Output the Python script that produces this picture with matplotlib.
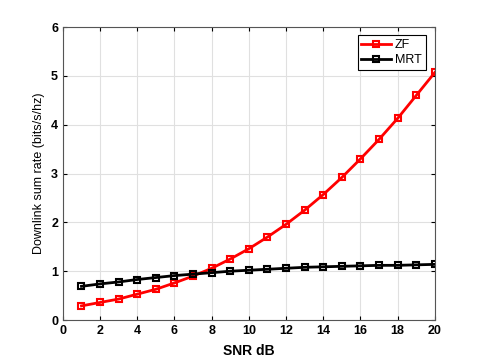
import matplotlib.pyplot as plt
import numpy as np

plt.rcParams['font.family'] = ['Liberation Sans', 'DejaVu Sans']

# SNR values in dB
snr_db = [1, 2, 3, 4, 5, 6, 7, 8, 9, 10, 11, 12, 13, 14, 15, 16, 17, 18, 19, 20]

# Downlink sum rates
zf_rate = [0.29, 0.36, 0.43, 0.53, 0.63, 0.76, 0.90, 1.06, 1.25, 1.46,
           1.70, 1.96, 2.25, 2.57, 2.92, 3.30, 3.70, 4.13, 4.60, 5.07]
mrt_rate = [0.69, 0.74, 0.78, 0.83, 0.87, 0.91, 0.94, 0.97, 1.00, 1.02,
            1.04, 1.06, 1.08, 1.09, 1.10, 1.11, 1.12, 1.12, 1.13, 1.14]

x_ticks = [0, 2, 4, 6, 8, 10, 12, 14, 16, 18, 20]
y_ticks = [0, 1, 2, 3, 4, 5, 6]

fig = plt.figure(figsize=(4.8, 3.6), dpi=100)
ax = fig.add_axes([0.131, 0.111, 0.775, 0.814])

ax.plot(snr_db, zf_rate, color='red', linewidth=2, marker='s', markersize=5,
        markerfacecolor='none', markeredgewidth=1.5, label='ZF')
ax.plot(snr_db, mrt_rate, color='black', linewidth=2, marker='s', markersize=5,
        markerfacecolor='none', markeredgewidth=1.5, label='MRT')

ax.set_xlim(0, 20)
ax.set_ylim(0, 6)
ax.set_xticks(x_ticks)
ax.set_yticks(y_ticks)
ax.grid(True, color='#e0e0e0', linewidth=0.8)
ax.set_axisbelow(True)

ax.tick_params(direction='in', top=True, right=True, length=3, labelsize=9)
for lbl in ax.get_xticklabels() + ax.get_yticklabels():
    lbl.set_fontweight('bold')
for s in ax.spines.values():
    s.set_color('#555555')
    s.set_linewidth(0.8)

ax.set_xlabel('SNR dB', fontsize=10, fontweight='bold', labelpad=5)
ax.set_ylabel('Downlink sum rate (bits/s/hz)', fontsize=9, labelpad=4)

leg = ax.legend(loc='upper right', bbox_to_anchor=(0.975, 0.972), fontsize=9,
                fancybox=False, framealpha=1, edgecolor='black',
                handlelength=2.4, handletextpad=0.3, borderpad=0.3,
                labelspacing=0.25, borderaxespad=0)
leg.get_frame().set_linewidth(0.8)

fig.savefig('out.png', dpi=100)
